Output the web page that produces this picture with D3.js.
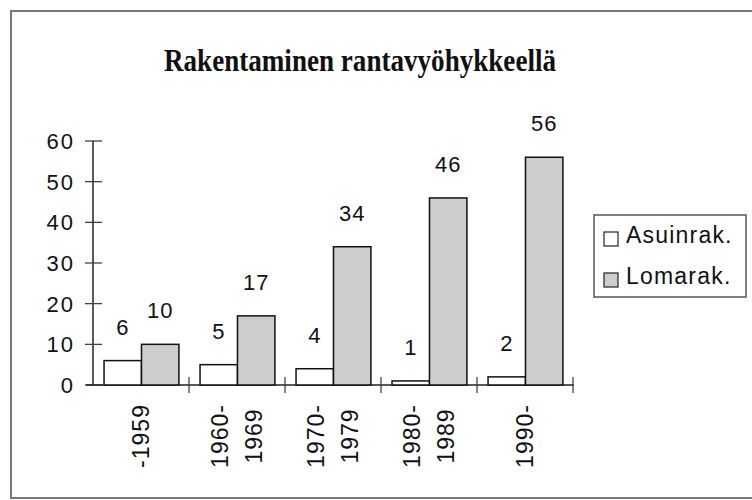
<!DOCTYPE html>
<html>
<head>
<meta charset="utf-8">
<script src="https://cdn.jsdelivr.net/npm/d3@7"></script>
<style>
  body { margin: 0; background: #fff; }
  text { font-family: "Liberation Sans", Arial, sans-serif; fill: #111; }
</style>
</head>
<body>
<script>
// data
var categories = ["-1959", "1960-1969", "1970-1979", "1980-1989", "1990-"];
var catLines = [["-1959"], ["1960-", "1969"], ["1970-", "1979"], ["1980-", "1989"], ["1990-"]];
var seriesNames = ["Asuinrak.", "Lomarak."];
var asuinrak = [6, 5, 4, 1, 2];
var lomarak = [10, 17, 34, 46, 56];
var yTicks = [0, 10, 20, 30, 40, 50, 60];
var seriesColors = ["#ffffff", "#cdcdcd"];

var width = 752, height = 500;

var svg = d3.select("body").append("svg")
    .attr("width", width)
    .attr("height", height);

// outer frame (right edge runs off the scan)
svg.append("rect")
    .attr("x", 11).attr("y", 11)
    .attr("width", 760).attr("height", 487)
    .attr("fill", "none")
    .attr("stroke", "#777")
    .attr("stroke-width", 2);

// title
svg.append("text")
    .attr("x", 360).attr("y", 71)
    .attr("text-anchor", "middle")
    .attr("textLength", 392)
    .attr("lengthAdjust", "spacingAndGlyphs")
    .style("font-family", "'Liberation Serif', 'Times New Roman', serif")
    .style("font-weight", "bold")
    .style("font-size", "31px")
    .text("Rakentaminen rantavyöhykkeellä");

var x0 = d3.scaleBand().domain(categories).range([93, 573]);
var bw = x0.bandwidth();
var x1 = d3.scaleBand().domain(seriesNames).range([bw * 0.115, bw * 0.895]);
var y = d3.scaleLinear().domain([0, 60]).range([385, 141]);

// y axis
var gy = svg.append("g");
gy.append("line")
    .attr("x1", 93).attr("x2", 93)
    .attr("y1", y(60)).attr("y2", y(0))
    .attr("stroke", "#222").attr("stroke-width", 1.5);
gy.selectAll("line.tick").data(yTicks).enter().append("line")
    .attr("class", "tick")
    .attr("x1", 85).attr("x2", 102)
    .attr("y1", function(d) { return y(d); })
    .attr("y2", function(d) { return y(d); })
    .attr("stroke", "#333").attr("stroke-width", 1.2);
gy.selectAll("text").data(yTicks).enter().append("text")
    .attr("x", 75)
    .attr("y", function(d) { return y(d) + 8; })
    .attr("text-anchor", "end")
    .style("font-size", "22px")
    .style("letter-spacing", "2px")
    .text(function(d) { return d; });

// x axis
svg.append("line")
    .attr("x1", 86).attr("x2", 574)
    .attr("y1", y(0)).attr("y2", y(0))
    .attr("stroke", "#222").attr("stroke-width", 1.5);
var bounds = categories.map(function(c) { return x0(c); }).concat([573]);
svg.selectAll("line.xtick").data(bounds.slice(1)).enter().append("line")
    .attr("class", "xtick")
    .attr("x1", function(d) { return d; })
    .attr("x2", function(d) { return d; })
    .attr("y1", 377).attr("y2", 393)
    .attr("stroke", "#333").attr("stroke-width", 1.2);

// bars
var groups = svg.selectAll("g.cat").data(categories).enter().append("g")
    .attr("class", "cat")
    .attr("transform", function(d) { return "translate(" + x0(d) + ",0)"; });

var seriesData = [asuinrak, lomarak];
seriesNames.forEach(function(s, si) {
  groups.append("rect")
      .attr("x", x1(s))
      .attr("width", x1.bandwidth())
      .attr("y", function(d, i) { return y(seriesData[si][i]); })
      .attr("height", function(d, i) { return y(0) - y(seriesData[si][i]); })
      .attr("fill", seriesColors[si])
      .attr("stroke", "#111")
      .attr("stroke-width", 1.5);
  groups.append("text")
      .attr("x", x1(s) + x1.bandwidth() / 2)
      .attr("y", function(d, i) { return y(seriesData[si][i]) - 26; })
      .attr("text-anchor", "middle")
      .style("font-size", "22px")
      .style("letter-spacing", "1px")
      .text(function(d, i) { return seriesData[si][i]; });
});

// rotated category labels
groups.each(function(d, i) {
  var lines = catLines[i];
  var g = d3.select(this);
  lines.forEach(function(t, j) {
    var cx = bw / 2 + (j - (lines.length - 1) / 2) * 34 + 8;
    g.append("text")
        .attr("transform", "translate(" + cx + ",436) rotate(-90)")
        .attr("text-anchor", "middle")
        .style("font-size", "23px")
        .style("letter-spacing", "1px")
        .text(t);
  });
});

// legend
var lg = svg.append("g");
lg.append("rect")
    .attr("x", 594).attr("y", 215)
    .attr("width", 152).attr("height", 82)
    .attr("fill", "#fff")
    .attr("stroke", "#555")
    .attr("stroke-width", 1.5);
seriesNames.forEach(function(s, i) {
  var yy = 232 + i * 41;
  lg.append("rect")
      .attr("x", 604).attr("y", yy)
      .attr("width", 14).attr("height", 14)
      .attr("fill", seriesColors[i])
      .attr("stroke", "#222")
      .attr("stroke-width", 1.2);
  lg.append("text")
      .attr("x", 626).attr("y", yy + 11)
      .style("font-size", "23px")
      .style("letter-spacing", "1.2px")
      .text(s);
});
</script>
</body>
</html>
